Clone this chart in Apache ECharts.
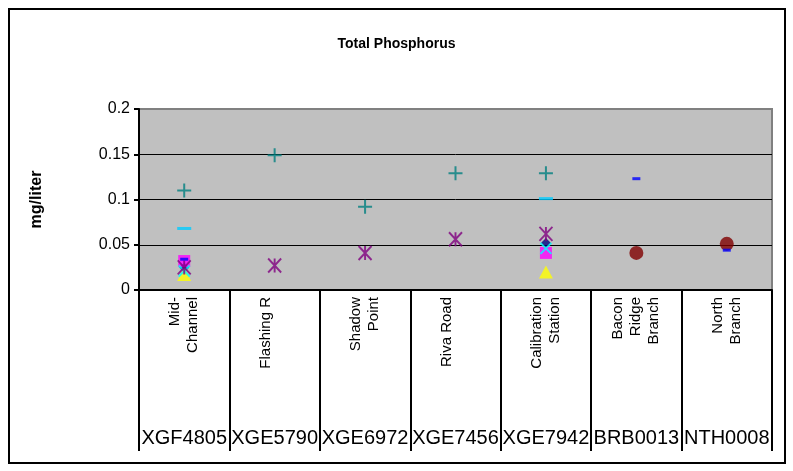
<!DOCTYPE html>
<html>
<head>
<meta charset="utf-8">
<script src="https://cdn.jsdelivr.net/npm/echarts@6/dist/echarts.min.js"></script>
<style>
html,body{margin:0;padding:0;background:#fff;}
#chart{width:793px;height:471px;}
</style>
</head>
<body>
<div id="chart"></div>
<script>
// ---- data ----
var siteNames = ['Mid-\nChannel', 'Flashing R', 'Shadow\nPoint', 'Riva Road', 'Calibration\nStation', 'Bacon\nRidge\nBranch', 'North\nBranch'];
var siteCodes = ['XGF4805', 'XGE5790', 'XGE6972', 'XGE7456', 'XGE7942', 'BRB0013', 'NTH0008'];
var yTicks = [0, 0.05, 0.1, 0.15, 0.2];

var seriesDiamond = [0.025, null, null, null, 0.052, null, null];
var seriesSquare = [0.032, null, null, null, 0.041, null, null];
var seriesTriangle = [0.017, null, null, null, 0.020, null, null];
var seriesX = [0.021, null, null, null, 0.046, null, null];
var seriesStar = [0.025, 0.027, 0.041, 0.056, 0.062, null, null];
var seriesCircle = [null, null, null, null, null, 0.041, 0.051];
var seriesPlus = [0.110, 0.149, 0.092, 0.129, 0.129, null, null];
var seriesShortDash = [0.034, null, null, null, null, 0.123, 0.044];
var seriesLongDash = [0.068, null, null, null, 0.101, null, null];

var FONT = '"Liberation Sans", Arial, sans-serif';

function mk(name, data, symbol, size, color, stroke) {
  return {
    name: name, type: 'scatter', data: data, symbol: symbol, symbolSize: size,
    xAxisIndex: 0, yAxisIndex: 0, animation: false,
    itemStyle: stroke ? {color: 'transparent', borderColor: color, borderWidth: 2} : {color: color}
  };
}

var chart = echarts.init(document.getElementById('chart'));
chart.setOption({
  backgroundColor: '#fff',
  animation: false,
  title: {
    text: 'Total Phosphorus', left: 'center', top: 32,
    textStyle: {fontFamily: FONT, fontWeight: 'bold', fontSize: 14, color: '#000'}
  },
  grid: {
    left: 139, right: 21, top: 109, bottom: 181,
    show: true, backgroundColor: '#C0C0C0', borderColor: '#808080', borderWidth: 2
  },
  xAxis: [{
    type: 'category', data: siteNames, position: 'bottom',
    boundaryGap: true,
    axisLine: {show: true, lineStyle: {color: '#000', width: 2}},
    axisTick: {show: true, length: 161, lineStyle: {color: '#000', width: 2}},
    axisLabel: {rotate: 90, fontFamily: FONT, fontSize: 15, color: '#000', margin: 7, lineHeight: 18, interval: 0,
      formatter: function (v) { return v.indexOf('\n') < 0 ? v + '\n ' : v; }},
    splitLine: {show: false}
  }, {
    type: 'category', data: siteCodes, position: 'bottom', offset: 130,
    axisLine: {show: false}, axisTick: {show: false},
    axisLabel: {fontFamily: FONT, fontSize: 20, color: '#000', margin: 8, interval: 0},
    splitLine: {show: false}
  }],
  yAxis: {
    type: 'value', min: 0, max: 0.2, interval: 0.05,
    name: 'mg/liter', nameLocation: 'middle', nameGap: 94, nameRotate: 90,
    nameTextStyle: {fontFamily: FONT, fontWeight: 'bold', fontSize: 16, color: '#000'},
    axisLine: {show: true, lineStyle: {color: '#000', width: 2}},
    axisTick: {show: true, length: 5, lineStyle: {color: '#000', width: 2}},
    axisLabel: {fontFamily: FONT, fontSize: 16, color: '#000', margin: 9,
      formatter: function (v) { return String(parseFloat(v.toFixed(2))); }},
    splitLine: {show: true, lineStyle: {color: ['#000', '#000', '#000', '#000', '#808080'], width: 1}}
  },
  series: [
    mk('Diamond', seriesDiamond, 'diamond', 10, '#000080', false),
    mk('Square', seriesSquare, 'rect', 12, '#FF00FF', false),
    mk('Triangle', seriesTriangle, 'triangle', [14, 13], '#FFFF00', false),
    mk('X', seriesX, 'path://M0,0L10,10M10,0L0,10', 11, '#00FFFF', true),
    mk('Star', seriesStar, 'path://M0,0L10,10M10,0L0,10M5,0L5,10', [13, 14], '#800080', true),
    mk('Circle', seriesCircle, 'circle', 14, '#800000', false),
    mk('Plus', seriesPlus, 'path://M5,0L5,10M0,5L10,5', 14, '#008080', true),
    mk('ShortDash', seriesShortDash, 'rect', [8, 3], '#0000FF', false),
    mk('LongDash', seriesLongDash, 'rect', [14, 3], '#00CCFF', false)
  ],
  graphic: [{
    type: 'rect', left: 8, top: 8, shape: {width: 776, height: 454},
    style: {fill: 'transparent', stroke: '#000', lineWidth: 2}, silent: true
  }]
});
</script>
</body>
</html>
